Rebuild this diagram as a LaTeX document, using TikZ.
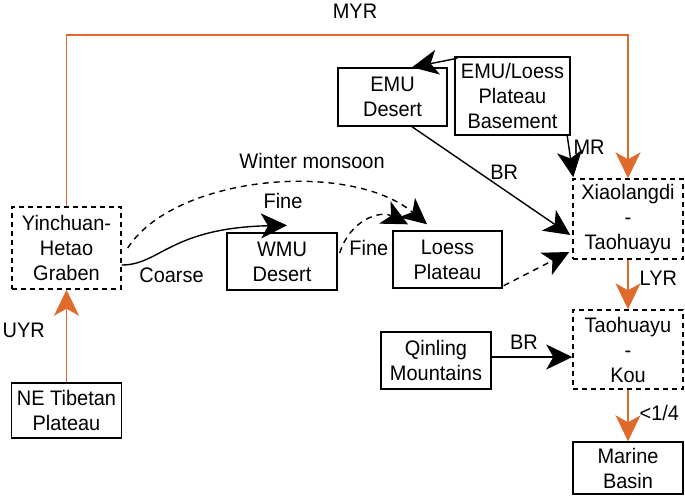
\documentclass[tikz,border=0pt]{standalone}
\usepackage{fontspec}
\setmainfont{Liberation Sans}[FakeStretch=0.95]
\usepackage{xcolor}
\usepackage{tikz}
\usetikzlibrary{positioning,arrows.meta}
\definecolor{riverorange}{RGB}{224,106,44}

\begin{document}
\begin{tikzpicture}[x=1pt, y=-1pt, node distance=2cm,
    box/.style={rectangle, draw, line width=1.4pt, minimum width=110pt, minimum height=57pt, inner sep=0pt, align=center, font=\fontsize{21}{25}\selectfont},
    dbox/.style={box, dash pattern=on 5pt off 4pt},
    lbl/.style={inner sep=0pt, font=\fontsize{21}{25}\selectfont},
    arr/.style={line width=1.4pt, -{Stealth[length=26pt, width=25pt, inset=7pt]}},
    oarr/.style={arr, draw=riverorange},
    darr/.style={arr, dash pattern=on 6pt off 5pt}]
    \useasboundingbox (0,0) rectangle (685,496);

    % Main components
    \node[dbox, minimum width=109pt, minimum height=82pt] (yh) at (66.5,248) {Yinchuan-\\Hetao\\Graben};
    \node[box, minimum height=55pt, below of=yh, node distance=162.5pt] (ne) {NE Tibetan\\Plateau};
    \node[box, right of=yh, node distance=215.5pt, yshift=-13.5pt] (wmu) {WMU\\Desert};
    \node[box, minimum width=109pt, right of=wmu, node distance=165.5pt, yshift=2pt] (loess) {Loess\\Plateau};
    \node[box, minimum width=109pt, minimum height=58pt, above of=loess, node distance=162.5pt, xshift=-55pt] (emu) {EMU\\Desert};
    \node[box, minimum width=115pt, minimum height=78pt, right of=emu, node distance=120pt, yshift=1pt] (base) {EMU/Loess\\Plateau\\Basement};

    % River reaches
    \node[dbox, minimum height=80pt] (xt) at (628,219) {Xiaolangdi\\-\\Taohuayu};
    \node[dbox, minimum height=79pt, below of=xt, node distance=130.5pt] (tk) {Taohuayu\\-\\Kou};
    \node[box, minimum height=52pt, below of=tk, node distance=118.5pt] (mar) {Marine\\Basin};
    \node[box, left of=tk, node distance=192pt, yshift=-11pt] (qin) {Qinling\\Mountains};

    % Yellow River
    \coordinate (myr) at (355,35);
    \draw[oarr] (ne.north) -- node[lbl, pos=0.56, left=21pt] {UYR} (yh.south);
    \draw[oarr] (yh.north) |- (myr) node[lbl, above=16pt] {MYR} -| (xt.north);
    \draw[oarr] (xt.south) -- node[lbl, pos=0.37, right=11pt] {LYR} (tk.north);
    \draw[oarr] (tk.south) -- node[lbl, pos=0.45, right=11pt] {<1/4} (mar.north);

    % Sediment sources
    \draw[arr] ([xshift=3pt,yshift=-2pt]base.north west) -- ([xshift=19.5pt]emu.north);
    \draw[arr] ([xshift=-3.5pt]base.south east) -- node[lbl, pos=0.28, right=4pt] {MR} ([xshift=1pt,yshift=1pt]xt.north west);
    \draw[arr] ([xshift=19.5pt]emu.south) -- node[lbl, pos=0.49, anchor=south west] {BR} ([xshift=-2pt,yshift=-16pt]xt.west);
    \draw[arr] ([yshift=3.5pt]qin.east) -- node[lbl, pos=0.4, above=7pt] {BR} ([yshift=-7.5pt]tk.west);

    % Wind and sorting
    \draw[arr] ([yshift=-17pt]yh.east) node[lbl, anchor=north west, xshift=17pt, yshift=-2.5pt] {Coarse}
        .. controls (160,265) and (170,228) .. ([xshift=5pt,yshift=7pt]wmu.north)
        node[lbl, pos=1, above=16pt, xshift=-4pt] {Fine};
    \draw[darr] ([xshift=6pt]yh.east) .. controls (175,175) and (350,160) .. ([xshift=-20.5pt,yshift=6pt]loess.north)
        node[lbl, pos=0.55, above=14pt, xshift=28pt] {Winter monsoon};
    \draw[darr] ([xshift=2pt,yshift=8.5pt]wmu.east) node[lbl, anchor=west, xshift=9pt, yshift=5pt] {Fine}
        .. controls (350,220) and (380,210) .. ([xshift=-39.5pt,yshift=6pt]loess.north);
    \draw[darr] ([xshift=1pt,yshift=3pt]loess.south east) -- ([xshift=-3pt,yshift=-33pt]xt.west);
\end{tikzpicture}
\end{document}
